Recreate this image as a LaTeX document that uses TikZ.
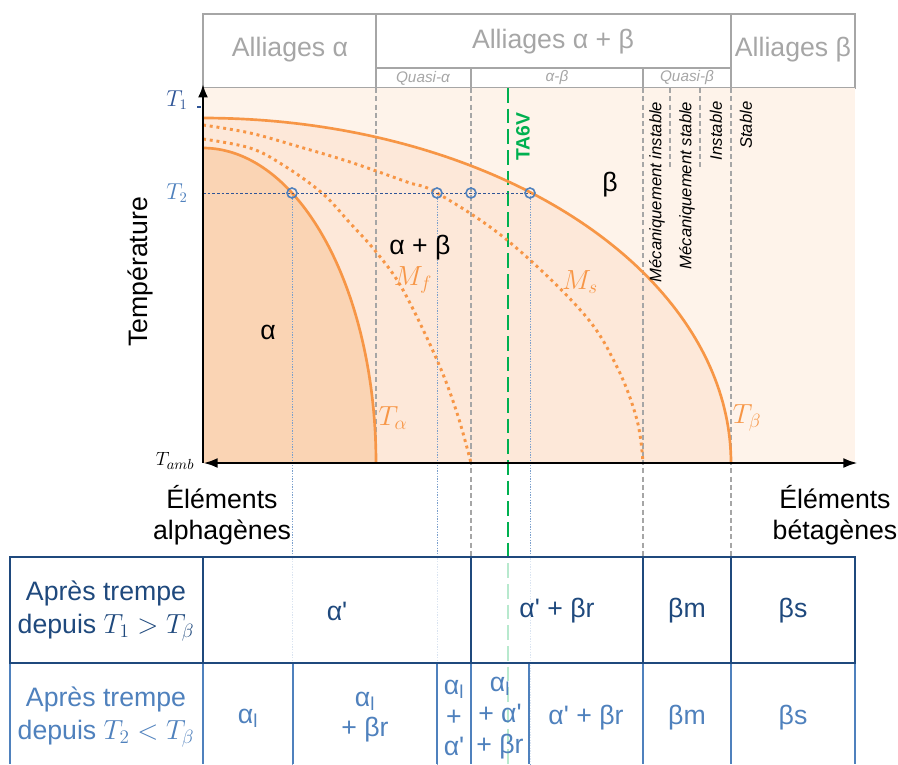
\documentclass[tikz,border=0pt]{standalone}
\usepackage{amsmath, amssymb}
\usepackage{fontspec}
\setmainfont{Liberation Sans}
\usepackage{xcolor}
\usepackage{tikz}
\usetikzlibrary{arrows.meta, positioning, calc}

\definecolor{orangeT}{HTML}{F79646}
\definecolor{bgOut}{HTML}{FEF3EA}
\definecolor{bgMid}{HTML}{FDE8D9}
\definecolor{bgIn}{HTML}{FAD4B4}
\definecolor{grayH}{HTML}{A6A6A6}
\definecolor{darkBlue}{HTML}{1F497D}
\definecolor{midBlue}{HTML}{2F5597}
\definecolor{lightBlue}{HTML}{4F81BD}
\definecolor{greenT}{HTML}{00B050}

\newcommand{\ap}{α\textquotesingle}

\tikzset{
  hdr/.style={draw=grayH, line width=2pt},
  hdrtxt/.style={text=grayH, font=\fontsize{20}{24}\selectfont},
  subtxt/.style={text=grayH, font=\fontsize{11.5}{12}\selectfont\itshape},
  vsep/.style={draw=grayH, line width=1.1pt, dash pattern=on 3.8pt off 2.4pt},
  tcurve/.style={draw=orangeT, line width=2pt},
  mcurve/.style={draw=orangeT, line width=2.2pt, dash pattern=on 2.2pt off 2.9pt},
  olbl/.style={text=orangeT, font=\fontsize{20}{24}\selectfont},
  blbl/.style={font=\fontsize{20}{24}\selectfont},
  ptcirc/.style={circle, draw=lightBlue, line width=1.2pt, inner sep=0pt, minimum size=7.5pt},
  vguide/.style={draw=lightBlue!75, line width=0.7pt, dash pattern=on 1pt off 1pt},
  t2line/.style={draw=midBlue, line width=0.6pt, dash pattern=on 2pt off 1.5pt},
  stab/.style={rotate=90, anchor=east, font=\fontsize{12.5}{13}\selectfont\itshape},
  axis/.style={line width=2.2pt},
  row1/.style={draw=darkBlue, line width=2.2pt},
  row2/.style={draw=lightBlue, line width=2.2pt},
  cell1/.style={text=darkBlue, font=\fontsize{20}{25}\selectfont, align=center},
  cell2/.style={text=lightBlue, font=\fontsize{20}{23}\selectfont, align=center},
}

\begin{document}
\begin{tikzpicture}[x=0.75pt, y=-0.75pt]
  \useasboundingbox (0,0) rectangle (898,764);

  \draw[hdr] (203,14) rectangle (855,88);
  \draw[hdr] (376,14) -- (376,88) (731,14) -- (731,88) (376,68) -- (731,68)
             (471,68) -- (471,88) (643,68) -- (643,88);
  \node[hdrtxt] (hA)  at (290,50) {Alliages α};
  \node[hdrtxt] (hAB) at (553,42) {Alliages α + β};
  \node[hdrtxt] (hB)  at (793,50) {Alliages β};
  \node[subtxt] (qA)  at (423,78) {Quasi-α};
  \node[subtxt] (qAB) at (557,78) {α-β};
  \node[subtxt] (qB)  at (687,78) {Quasi-β};

  \fill[bgOut] (203,88) rectangle (855,463);
  \fill[bgMid] (203,463) -- plot[domain=90:0, samples=90] ({203+528*cos(\x)}, {463-345*sin(\x)}) -- cycle;
  \fill[bgIn] (203,463) -- plot[domain=90:0, samples=90] ({203+173*cos(\x)}, {463-315*sin(\x)}) -- cycle;

  \coordinate (bot) at (0,764);
  \foreach \xx/\yy in {376/463, 471/557, 643/557, 731/557, 670/170, 700/170}
    \draw[vsep] (\xx,88) -- (\xx,\yy);

  \foreach \xx [count=\i] in {292,437,471,530}
    \coordinate (c\i) at (\xx,193);
  \foreach \i in {1,2,4}
    \draw[vguide] (c\i) -- (c\i |- bot);
  \coordinate (g0) at (508,88);
  \coordinate (g1) at (508,764);
  \draw[greenT, line width=1.6pt, dash pattern=on 11pt off 4.5pt] (g0) -- (g1);
  \node[text=greenT, rotate=90, font=\fontsize{14.5}{16}\selectfont\bfseries] (ta6v) at (523,137) {TA6V};

  \draw[tcurve] plot[domain=90:0, samples=90] ({203+528*cos(\x)}, {463-345*sin(\x)});
  \draw[tcurve] plot[domain=90:0, samples=90] ({203+173*cos(\x)}, {463-315*sin(\x)});
  \draw[mcurve] plot[smooth, tension=0.6] coordinates {(203,125) (250,133) (300,147) (350,162)
    (407,182) (437,193) (507,240) (583,313) (617,367) (637,420) (643,463)};
  \draw[mcurve] plot[smooth, tension=0.6] coordinates {(203,139) (250,148) (283,165) (322,193)
    (350,223) (377,253) (403,290) (437,360) (457,413) (471,463)};

  \coordinate (t2) at (203,193);
  \draw[t2line] (t2) -- (c4);
  \foreach \i in {1,...,4}
    \node[ptcirc] (p\i) at (c\i) {};

  \coordinate (O) at (203,463);
  \coordinate (yEnd) at (203,84);
  \coordinate (xEnd) at (858,463);
  \draw[axis, -{Latex[length=10pt, width=7.5pt]}] (O) -- (yEnd);
  \draw[axis, {Latex[length=11pt, width=7.5pt]}-{Latex[length=11pt, width=7.5pt]}] (O) -- (xEnd);
  \draw[midBlue, line width=1.5pt] (197,107) -- (201,107);

  \node[text=midBlue, font=\fontsize{16}{18}\selectfont] (T1) at (177,100) {$T_1$};
  \node[text=lightBlue, font=\fontsize{16}{18}\selectfont] (T2) at (177,193) {$T_2$};
  \node[font=\fontsize{15}{17}\selectfont] (Tamb) at (175,461) {$T_{amb}$};
  \node[blbl, rotate=90] (temp) at (140,272) {Température};
  \node[blbl, align=center, font=\fontsize{20}{23}\selectfont] (alph) at (222,515) {Éléments\\alphagènes};
  \node[blbl, align=center, font=\fontsize{20}{23}\selectfont] (beta) at (835,515) {Éléments\\bétagènes};

  \node[blbl] (lB)  at (610,185) {β};
  \node[blbl] (lAB) at (420,248) {α + β};
  \node[blbl] (lA)  at (268,332) {α};
  \node[olbl] (Mf) at (413,280) {$M_f$};
  \node[olbl] (Ms) at (580,282) {$M_s$};
  \node[olbl] (Ta) at (393,418) {$T_\alpha$};
  \node[olbl] (Tb) at (747,418) {$T_\beta$};

  \node[stab] (mi) at (657,97) {Mécaniquement instable};
  \node[stab] (ms) at (687,97) {Mécaniquement stable};
  \node[stab] (in) at (716,97) {Instable};
  \node[stab] (st) at (746,97) {Stable};

  \fill[white, opacity=0.72] (10,557) rectangle (855,764);
  \foreach \xx in {10,203,293,437,471,529,643,731,855}
    \draw[row2] (\xx,663) -- (\xx,764);
  \draw[row1] (10,557) rectangle (855,663);
  \foreach \xx in {203,471,643,731}
    \draw[row1] (\xx,557) -- (\xx,663);

  \node[cell1] (r1a) at (106,611) {Après trempe\\depuis $T_1 > T_\beta$};
  \node[cell1] (r1b) at (337,611) {\ap};
  \node[cell1] (r1c) at (557,611) {\ap{} + βr};
  \node[cell1] (r1d) at (687,611) {βm};
  \node[cell1] (r1e) at (793,611) {βs};

  \node[cell2, font=\fontsize{20}{25}\selectfont] (r2a) at (106,717) {Après trempe\\depuis $T_2 < T_\beta$};
  \node[cell2] (r2b) at (248,718) {α\textsubscript{l}};
  \node[cell2] (r2c) at (365,717) {α\textsubscript{l}\\+ βr};
  \node[cell2] (r2d) at (454,718) {α\textsubscript{l}\\+\\\ap};
  \node[cell2] (r2e) at (500,718) {α\textsubscript{l}\\+ \ap\\+ βr};
  \node[cell2] (r2f) at (586,718) {\ap{} + βr};
  \node[cell2] (r2g) at (687,718) {βm};
  \node[cell2] (r2h) at (793,718) {βs};
\end{tikzpicture}
\end{document}
